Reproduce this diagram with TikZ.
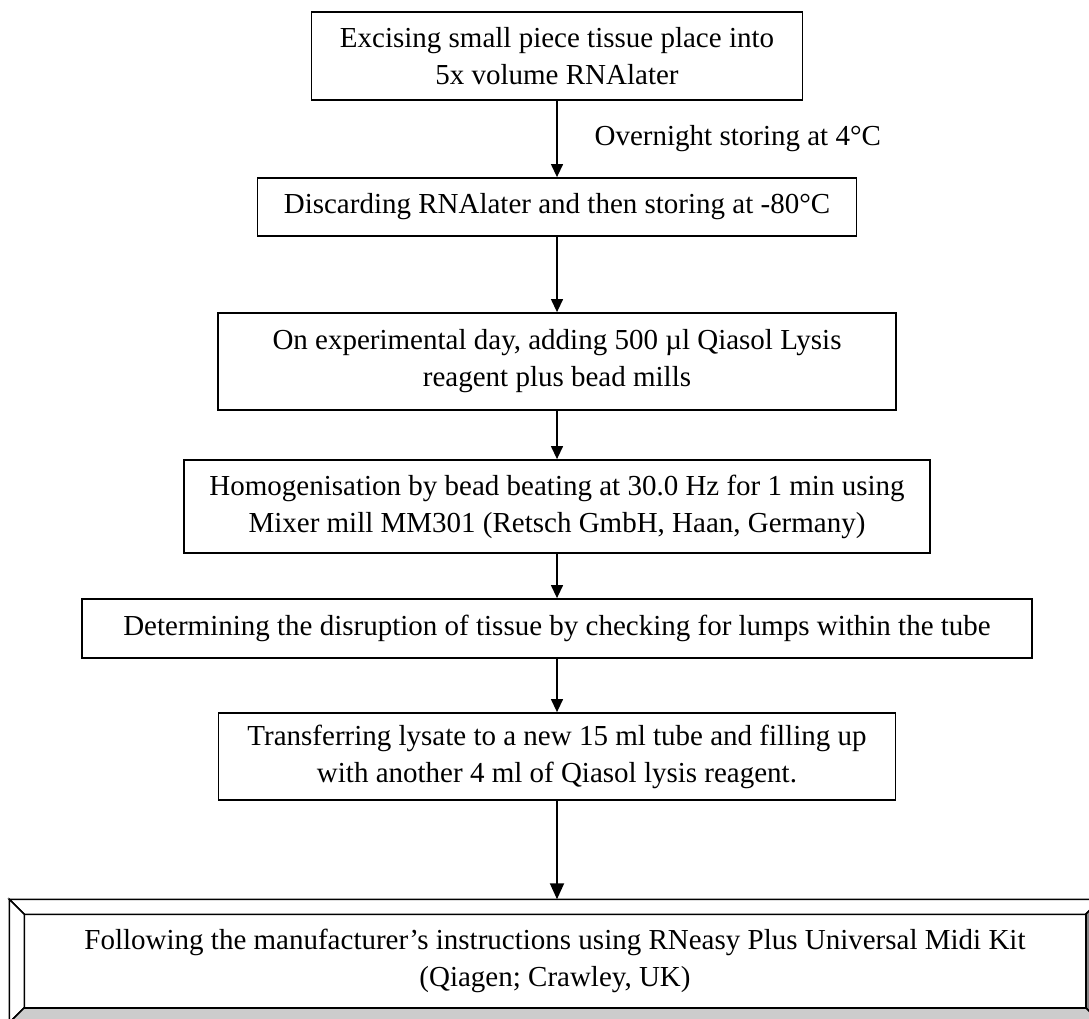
\documentclass[tikz,border=0pt]{standalone}
\usepackage{fontspec}
\setmainfont{Liberation Serif}
\usetikzlibrary{arrows.meta,positioning}
\definecolor{bevellight}{RGB}{204,204,204}
\definecolor{beveldark}{RGB}{136,136,136}
\tikzset{
	stepbox/.style={draw,line width=1.8pt,align=center,inner sep=0pt,font=\fontsize{29}{37}\selectfont},
	steplabel/.style={inner sep=0pt,font=\fontsize{29}{37}\selectfont},
}
\begin{document}
\begin{tikzpicture}[x=1pt,y=-1pt,line width=1.3pt,>={Triangle[length=13pt,width=12pt]}]
		      \useasboundingbox (0,0) rectangle (1089,1019);
		      \node[stepbox,minimum width=491pt,minimum height=88pt] (excise) at (557,56) {Excising small piece tissue place into\\5x volume RNAlater};
		      \node[stepbox,minimum width=599pt,minimum height=58pt] (discard) at (557,207) {Discarding RNAlater and then storing at -80°C};
		      \node[stepbox,minimum width=678pt,minimum height=97pt] (lysis) at (557,361.5) {On experimental day, adding 500 µl Qiasol Lysis\\reagent plus bead mills};
		      \node[stepbox,minimum width=746pt,minimum height=93pt] (homog) at (557,506.5) {Homogenisation by bead beating at 30.0 Hz for 1 min using\\Mixer mill MM301 (Retsch GmbH, Haan, Germany)};
		      \node[stepbox,minimum width=950pt,minimum height=59pt] (lumps) at (557,628.5) {Determining the disruption of tissue by checking for lumps within the tube};
		      \node[stepbox,minimum width=677pt,minimum height=87pt] (transfer) at (557,756.5) {Transferring lysate to a new 15 ml tube and filling up\\with another 4 ml of Qiasol lysis reagent.};
		      % bevelled end box
		      \node[stepbox,minimum width=1090pt,minimum height=122pt,line width=1.5pt] (kit) at (555,961) {Following the manufacturer’s instructions using RNeasy Plus Universal Midi Kit\\(Qiagen; Crawley, UK)};
		      \coordinate (kitnw) at ([shift={(15,15)}]kit.north west);
		      \coordinate (kitne) at ([shift={(-15,15)}]kit.north east);
		      \coordinate (kitsw) at ([shift={(15,-15)}]kit.south west);
		      \coordinate (kitse) at ([shift={(-15,-15)}]kit.south east);
		      \draw[line width=1.5pt,fill=white] (kit.north west) -- (kit.north east) -- (kitne) -- (kitnw) -- cycle;
		      \draw[line width=1.5pt,fill=white] (kit.north west) -- (kit.south west) -- (kitsw) -- (kitnw) -- cycle;
		      \draw[line width=1.5pt,fill=beveldark] (kit.north east) -- (kit.south east) -- (kitse) -- (kitne) -- cycle;
		      \draw[line width=1.5pt,fill=bevellight] (kit.south west) -- (kit.south east) -- (kitse) -- (kitsw) -- cycle;
		      \draw[line width=1.5pt] (kitnw) rectangle (kitse);
		      % arrows
		      \draw[->] (excise) -- node[steplabel,right=37pt] (overnight) {Overnight storing at 4°C} (discard);
		      \draw[->] (discard) -- (lysis);
		      \draw[->] (lysis) -- (homog);
		      \draw[->] (homog) -- (lumps);
		      \draw[->] (lumps) -- (transfer);
		      \draw[->,line width=2pt,>={Triangle[length=16pt,width=14pt]}] (transfer.south) -- (transfer.south |- kit.north);
	      \end{tikzpicture}
\end{document}
